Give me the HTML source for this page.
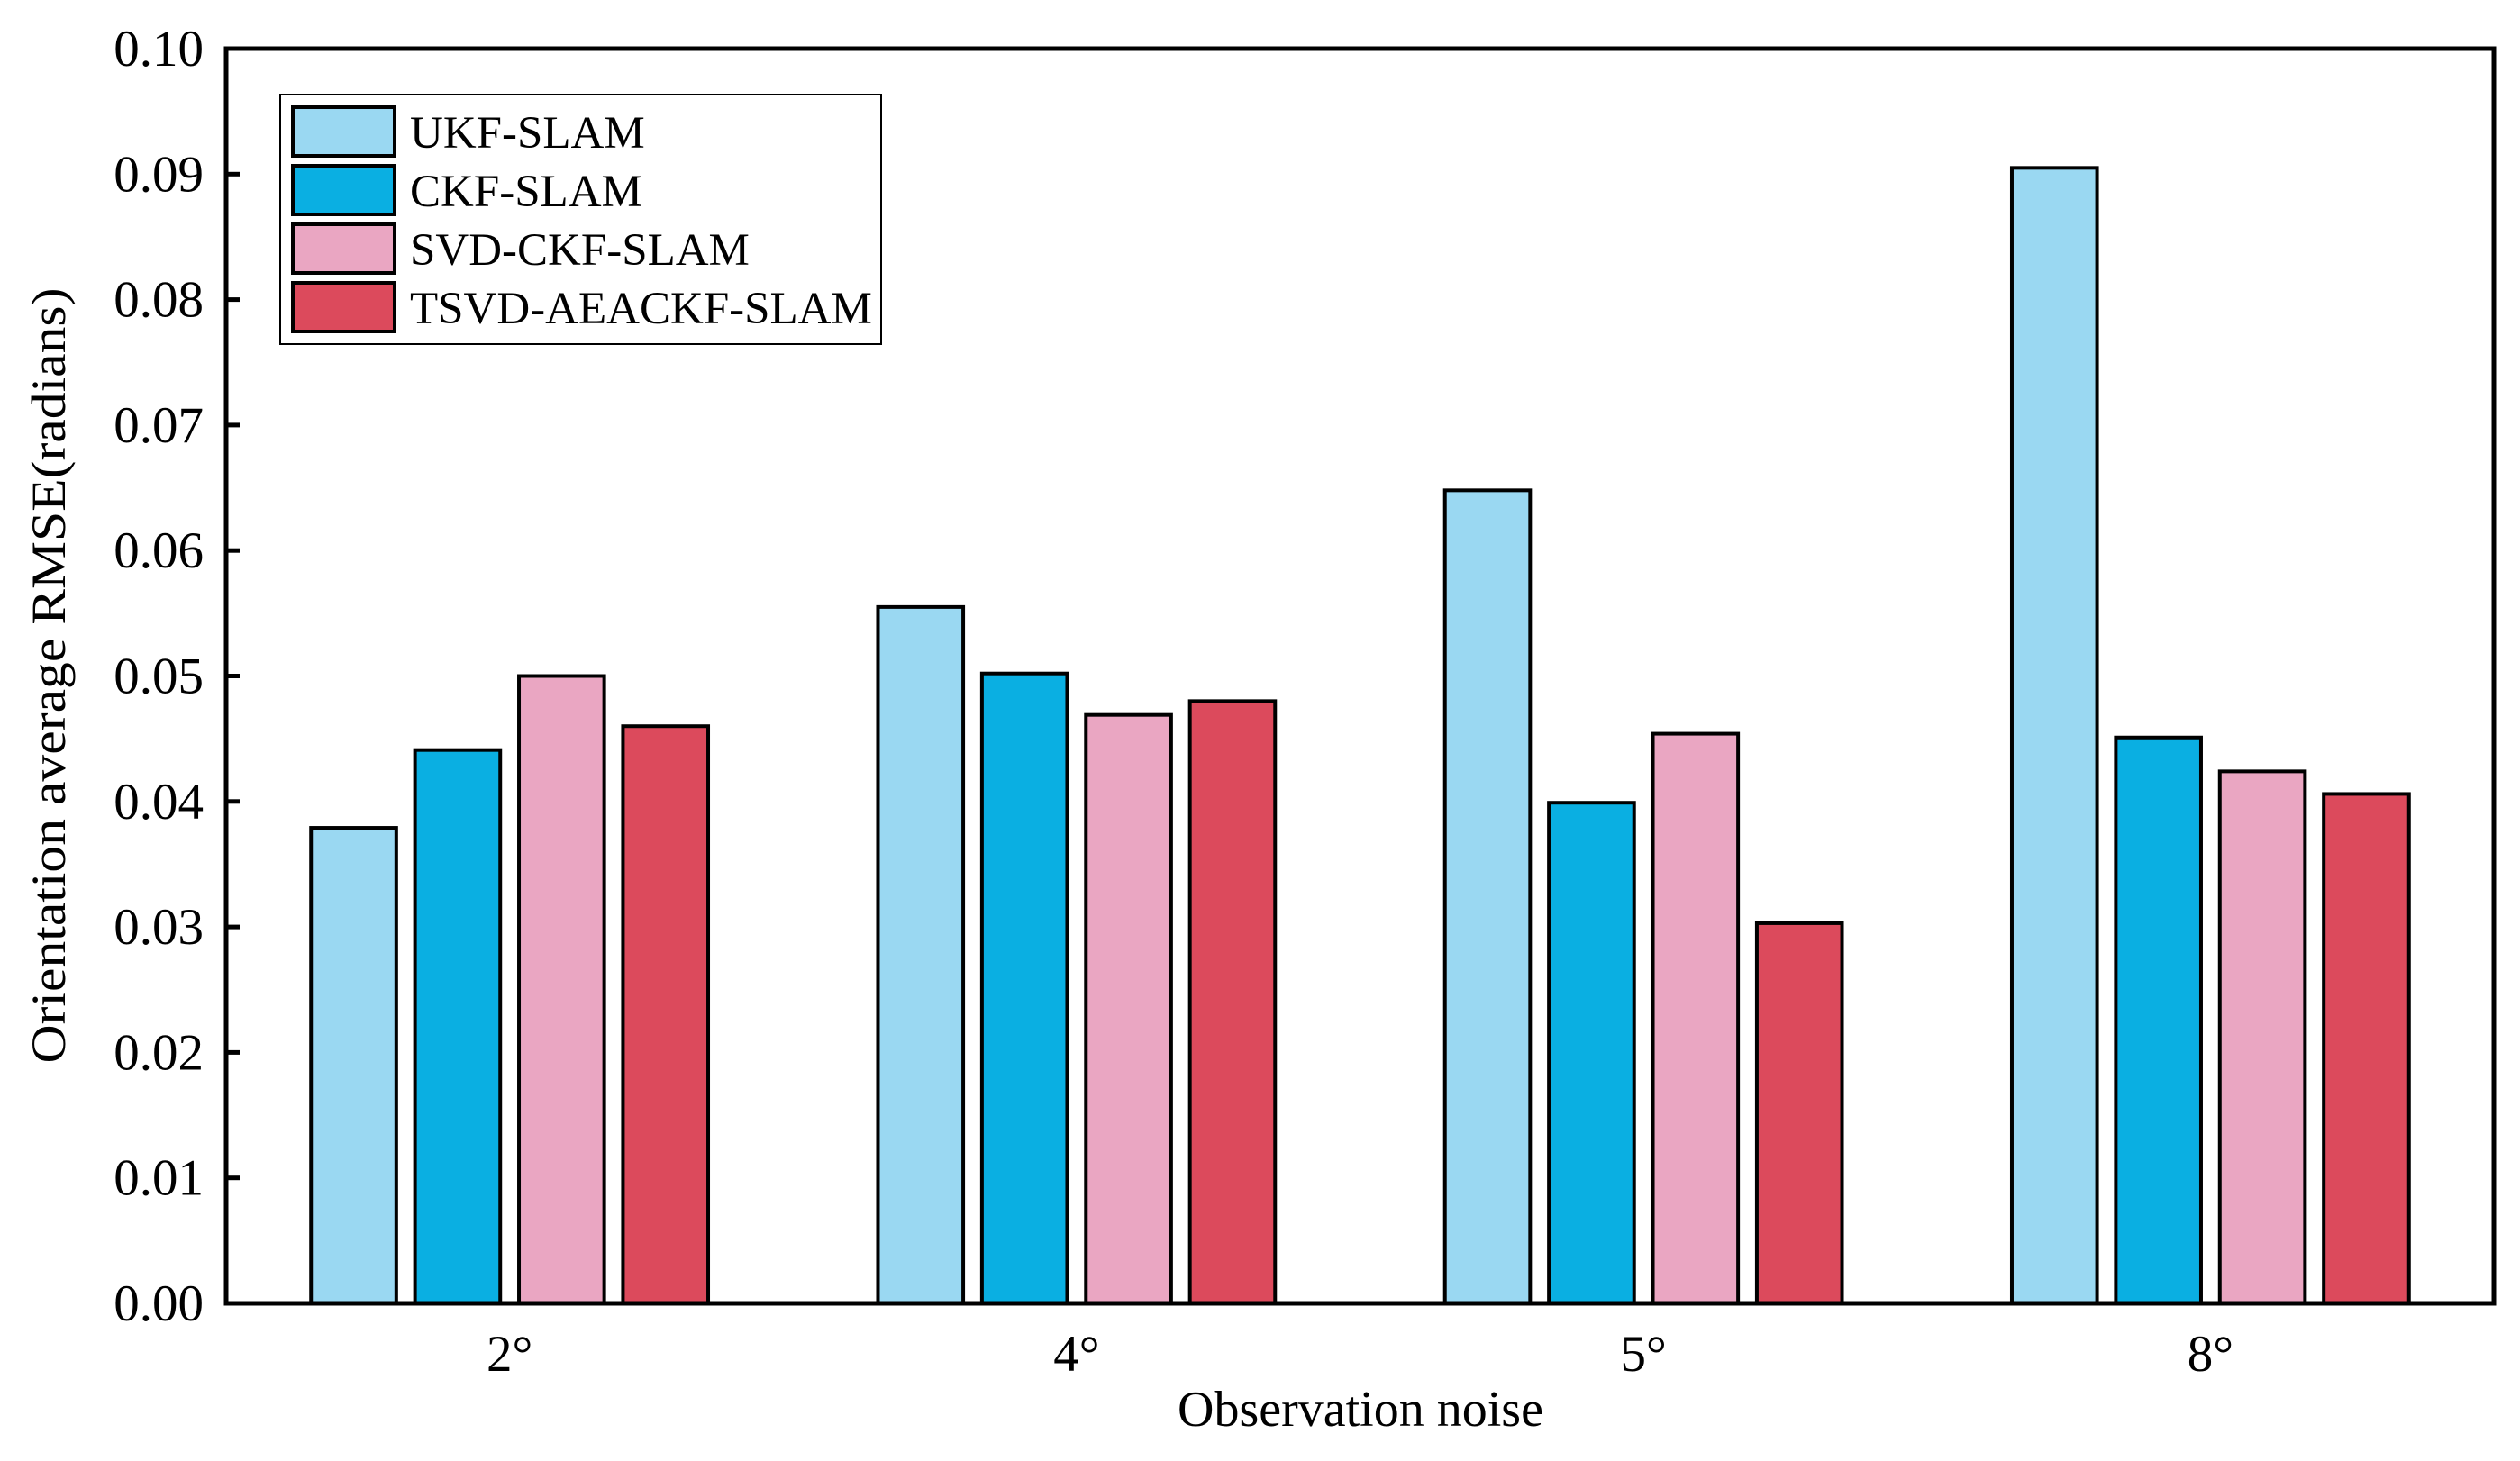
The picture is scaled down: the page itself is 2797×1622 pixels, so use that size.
<!DOCTYPE html>
<html><head><meta charset="utf-8"><style>
html,body{margin:0;padding:0;background:#fff;}
svg{display:block;font-family:"Liberation Serif",serif;}
</style></head><body>
<svg id="chart" width="2797" height="1622" viewBox="0 0 2797 1622" xmlns="http://www.w3.org/2000/svg">
<rect width="2797" height="1622" fill="#fff"/>
<g id="bars"></g>
<g id="axes"></g>
<g id="legend"></g>
</svg>
<script>
const categories = ["2°", "4°", "5°", "8°"];
const seriesNames = ["UKF-SLAM", "CKF-SLAM", "SVD-CKF-SLAM", "TSVD-AEACKF-SLAM"];
const ukf = [0.0379, 0.0555, 0.0648, 0.0905];
const ckf = [0.0441, 0.0502, 0.0399, 0.0451];
const svd = [0.0500, 0.0469, 0.0454, 0.0424];
const tsvd = [0.0460, 0.0480, 0.0303, 0.0406];
const yTicks = ["0.00","0.01","0.02","0.03","0.04","0.05","0.06","0.07","0.08","0.09","0.10"];

const NS = "http://www.w3.org/2000/svg";
const series = [ukf, ckf, svd, tsvd];
const colors = ["#9AD8F2", "#0AAFE2", "#EAA6C2", "#DC4A5C"];
const L = 251, R = 2768, T = 54, B = 1447;
const yMin = 0, yMax = 0.10;
function y(v){ return B - (v - yMin) / (yMax - yMin) * (B - T); }
const groupW = (R - L) / categories.length;
function xc(i){ return L + groupW * (i + 0.5); }
const pitch = 115.4, barW = 94.6;
function xBar(i, s){ return xc(i) + (s - (series.length - 1) / 2) * pitch - barW / 2; }

function el(tag, attrs, parent){
  const e = document.createElementNS(NS, tag);
  for (const k in attrs) e.setAttribute(k, attrs[k]);
  parent.appendChild(e);
  return e;
}

const gb = document.getElementById('bars');
series.forEach((vals, s) => {
  vals.forEach((v, i) => {
    const r = el('rect', {x: xBar(i, s), y: y(v), width: barW, height: y(0) - y(v), fill: colors[s], stroke: '#000', 'stroke-width': 4}, gb);
    
    
  });
});

const ga = document.getElementById('axes');
const frame = el('rect', {x: L, y: T, width: R - L, height: B - T, fill: 'none', stroke: '#000', 'stroke-width': 5}, ga);


yTicks.forEach((t) => {
  const v = parseFloat(t);
  const tk = el('line', {x1: L, x2: L + 15, y1: y(v), y2: y(v), stroke: '#000', 'stroke-width': 5}, ga);
  
  
  const lb = el('text', {x: 226, y: y(v) + 19, 'text-anchor': 'end', 'font-size': 57}, ga);
  lb.textContent = t;
  
  
});
categories.forEach((c, i) => {
  const lb = el('text', {x: xc(i), y: 1522, 'text-anchor': 'middle', 'font-size': 57}, ga);
  lb.textContent = c;
  
  
});
const xt = el('text', {x: 1510, y: 1583, 'text-anchor': 'middle', 'font-size': 56}, ga);
xt.textContent = 'Observation noise';


const yt = el('text', {x: 0, y: 0, 'text-anchor': 'middle', 'font-size': 54, transform: 'translate(72,750) rotate(-90)', textLength: 861, lengthAdjust: 'spacingAndGlyphs'}, ga);
yt.textContent = 'Orientation average RMSE(radians)';



const gl = document.getElementById('legend');
const box = el('rect', {x: 311, y: 105, width: 667, height: 277, fill: '#fff', stroke: '#000', 'stroke-width': 2}, gl);


seriesNames.forEach((n, s) => {
  const yy = 119 + s * 65;
  const sw = el('rect', {x: 325, y: yy, width: 113, height: 54, fill: colors[s], stroke: '#000', 'stroke-width': 4}, gl);
  
  
  const tx = el('text', {x: 455, y: yy + 45, 'font-size': 51}, gl);
  tx.textContent = n;
  
  
});
</script>
</body></html>
